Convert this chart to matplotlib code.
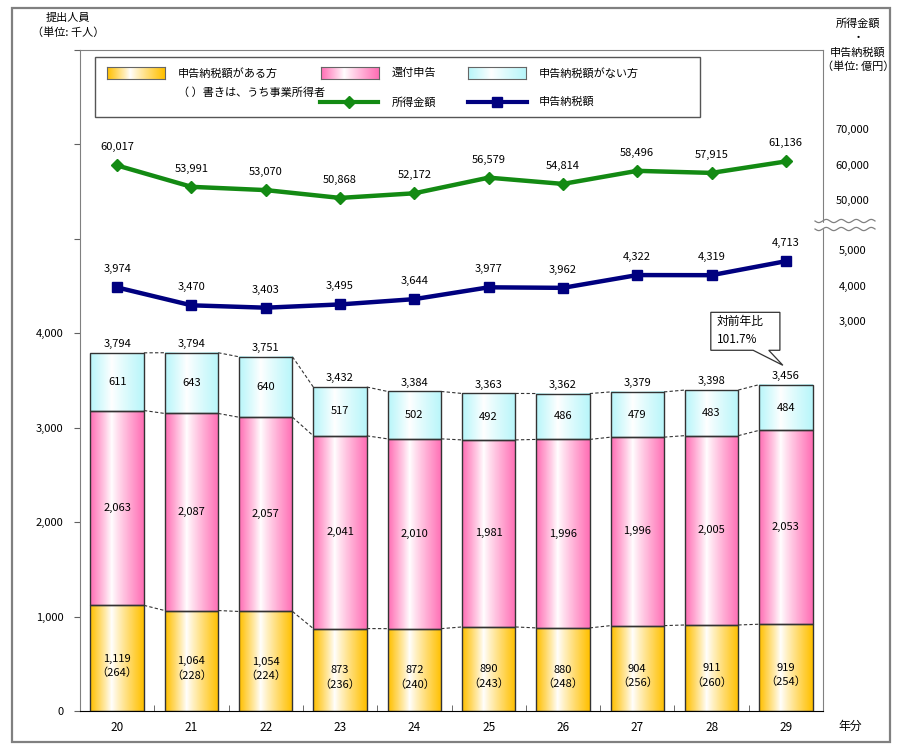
import numpy as np
import matplotlib
matplotlib.use("Agg")
import matplotlib.pyplot as plt
from matplotlib.patches import Rectangle, Polygon
from matplotlib.lines import Line2D

plt.rcParams['font.family'] = ['Noto Sans CJK JP', 'DejaVu Sans']

# ---- data ----
years = ['20', '21', '22', '23', '24', '25', '26', '27', '28', '29']
tax_payers = [1119, 1064, 1054, 873, 872, 890, 880, 904, 911, 919]
business = [264, 228, 224, 236, 240, 243, 248, 256, 260, 254]
refund = [2063, 2087, 2057, 2041, 2010, 1981, 1996, 1996, 2005, 2053]
no_tax = [611, 643, 640, 517, 502, 492, 486, 479, 483, 484]
totals = [3794, 3794, 3751, 3432, 3384, 3363, 3362, 3379, 3398, 3456]
income = [60017, 53991, 53070, 50868, 52172, 56579, 54814, 58496, 57915, 61136]
tax_amount = [3974, 3470, 3403, 3495, 3644, 3977, 3962, 4322, 4319, 4713]
income_ticks = [70000, 60000, 50000]
tax_ticks = [5000, 4000, 3000]

W, H = 899, 751
fig = plt.figure(figsize=(W / 100, H / 100), dpi=100)


def fx(x):
    return x / W


def fy(y):
    return 1 - y / H


# axes placed in pixel terms
ax = fig.add_axes([fx(80), fy(711), fx(823) - fx(80), fy(50) - fy(711)])
ax.set_xlim(-0.5, 9.5)
ax.set_ylim(0, 7000)

# broken right scale (left-axis units per value)
unit = 7000 / 661.0


def income_pos(v):
    return (510 + (v - 50000) * 0.00355) * unit


def tax_pos(v):
    return (389 + (v - 3000) * 0.0355) * unit


def gradient(color, n=64):
    c = np.array(matplotlib.colors.to_rgb(color))
    t = np.linspace(0, 1, n)
    w = np.where(t < 0.4, (0.4 - t) / 0.4, (t - 0.4) / 0.6) ** 0.9
    img = 1 - w[:, None] * (1 - c[None, :])
    return img[None, :, :]


orange = '#FFC000'
pink = '#FF6FB5'
cyan = '#B8F6FA'
bw = 0.72
x = np.arange(len(years))
bottoms = np.zeros(len(years))
layers = [(tax_payers, orange), (refund, pink), (no_tax, cyan)]
tops_per_layer = []
for vals, col in layers:
    vals = np.array(vals, dtype=float)
    for i in range(len(years)):
        ax.imshow(gradient(col), extent=[x[i] - bw / 2, x[i] + bw / 2, bottoms[i], bottoms[i] + vals[i]],
                  aspect='auto', interpolation='bilinear', zorder=2)
        ax.add_patch(Rectangle((x[i] - bw / 2, bottoms[i]), bw, vals[i], fill=False,
                               edgecolor='#333333', lw=1.0, zorder=3))
    bottoms = bottoms + vals
    tops_per_layer.append(bottoms.copy())

# dashed connectors
for tops in tops_per_layer:
    for i in range(len(years) - 1):
        ax.plot([x[i] + bw / 2, x[i + 1] - bw / 2], [tops[i], tops[i + 1]], ls=(0, (3, 2)),
                color='#333333', lw=0.8, zorder=3)

fs = 8
for i in range(len(years)):
    ax.text(x[i], tax_payers[i] * 0.5 - 80, f"{tax_payers[i]:,}\n（{business[i]}）", ha='center', va='center',
            fontsize=fs, linespacing=1.45, zorder=4)
    ax.text(x[i], tax_payers[i] + refund[i] / 2, f"{refund[i]:,}", ha='center', va='center', fontsize=fs, zorder=4)
    ax.text(x[i], tax_payers[i] + refund[i] + no_tax[i] / 2, f"{no_tax[i]:,}", ha='center', va='center',
            fontsize=fs, zorder=4)
    ax.text(x[i], totals[i] + 40, f"{totals[i]:,}", ha='center', va='bottom', fontsize=fs, zorder=4)

# lines
inc_y = [income_pos(v) for v in income]
tax_y = [tax_pos(v) for v in tax_amount]
ax.plot(x, inc_y, color='#138A13', lw=3.2, marker='D', ms=6.5, zorder=5)
ax.plot(x, tax_y, color='#00007F', lw=3.2, marker='s', ms=6.5, zorder=5)
for i in range(len(years)):
    ax.annotate(f"{income[i]:,}", (x[i], inc_y[i]), xytext=(0, 13), textcoords='offset points',
                ha='center', va='center', fontsize=fs)
    ax.annotate(f"{tax_amount[i]:,}", (x[i], tax_y[i]), xytext=(0, 13), textcoords='offset points',
                ha='center', va='center', fontsize=fs)

# axes styling
for s in ['top', 'right', 'left']:
    ax.spines[s].set_color('#808080')
ax.spines['bottom'].set_color('black')
ax.set_yticks(np.arange(0, 7001, 1000))
ax.set_yticklabels([f"{v:,}" for v in range(0, 5000, 1000)] + ['', '', ''], fontsize=fs)
ax.tick_params(axis='y', direction='out', length=4, color='#606060', pad=8)
ax.set_xticks(x)
ax.set_xticklabels(years, fontsize=8.5)
ax.set_xticks(np.arange(0.5, 9.5, 1), minor=True)
ax.tick_params(axis='x', which='major', length=0, pad=7)
ax.tick_params(axis='x', which='minor', direction='in', length=4, color='#555555')

# right-hand broken scale labels
for v in income_ticks:
    ax.text(1.04, income_pos(v), f"{v:,}", transform=ax.get_yaxis_transform(), ha='center', va='center',
            fontsize=fs)
for v in tax_ticks:
    ax.text(1.04, tax_pos(v), f"{v:,}", transform=ax.get_yaxis_transform(), ha='center', va='center',
            fontsize=fs)

# axis break squiggle
xs = np.linspace(815, 875, 200)
for y0 in (221, 229):
    ys = y0 + 1.6 * np.sin((xs - 815) / 60 * 2 * np.pi * 4)
    fig.add_artist(Line2D(fx(xs), fy(ys), color='#808080', lw=0.9, zorder=10))
fig.add_artist(Rectangle((fx(818), fy(227.5)), fx(10), fy(222.5) - fy(227.5), color='white', zorder=9,
                         transform=fig.transFigure))

# callout
poly = [(7.99, 3820), (8.56, 3820), (8.96, 3661), (8.77, 3820), (8.92, 3820), (8.92, 4222), (7.99, 4222)]
ax.add_patch(Polygon(poly, closed=True, facecolor='white', edgecolor='#333333', lw=0.9, zorder=6))
ax.text(8.07, 4130, "対前年比", fontsize=8.5, va='center', zorder=7)
ax.text(8.07, 3930, "101.7%", fontsize=8.5, va='center', zorder=7)

# outer frame
fig.add_artist(Rectangle((fx(12), fy(742)), fx(890) - fx(12), fy(8) - fy(742), fill=False,
                         edgecolor='#808080', lw=1.6, transform=fig.transFigure))

# unit labels
fig.text(fx(68), fy(18), "提出人員", ha='center', va='center', fontsize=8)
fig.text(fx(68), fy(33), "（単位: 千人）", ha='center', va='center', fontsize=8)
fig.text(fx(858), fy(23), "所得金額", ha='center', va='center', fontsize=8)
fig.text(fx(858), fy(38), "・", ha='center', va='center', fontsize=8)
fig.text(fx(858), fy(53), "申告納税額", ha='center', va='center', fontsize=8)
fig.text(fx(858), fy(67), "（単位: 億円）", ha='center', va='center', fontsize=8)
fig.text(fx(838), fy(726), "年分", ha='left', va='center', fontsize=8.5)

# legend box
fig.add_artist(Rectangle((fx(95), fy(117)), fx(700) - fx(95), fy(57) - fy(117), fill=False,
                         edgecolor='#555555', lw=1.0, transform=fig.transFigure))
legend_patches = [(orange, 107, "申告納税額がある方"), (pink, 321, "還付申告"), (cyan, 468, "申告納税額がない方")]
for col, lx, label in legend_patches:
    pax = fig.add_axes([fx(lx), fy(79), fx(58), fy(67) - fy(79)])
    pax.imshow(gradient(col), aspect='auto', interpolation='bilinear')
    pax.set_xticks([])
    pax.set_yticks([])
    for s in pax.spines.values():
        s.set_color('#666666')
        s.set_linewidth(0.8)
    fig.text(fx(lx + 71), fy(73), label, ha='left', va='center', fontsize=8)
fig.text(fx(178), fy(93), "（ ）書きは、うち事業所得者", ha='left', va='center', fontsize=8)
fig.add_artist(Line2D([fx(320), fx(349), fx(378)], [fy(102)] * 3, color='#138A13', lw=3.0, marker='D',
                      ms=6.5, markevery=[1], zorder=10))
fig.add_artist(Line2D([fx(468), fx(497), fx(527)], [fy(102)] * 3, color='#00007F', lw=3.0, marker='s',
                      ms=6.5, markevery=[1], zorder=10))
fig.text(fx(392), fy(102), "所得金額", ha='left', va='center', fontsize=8)
fig.text(fx(539), fy(102), "申告納税額", ha='left', va='center', fontsize=8)

fig.savefig("out.png", dpi=100)
